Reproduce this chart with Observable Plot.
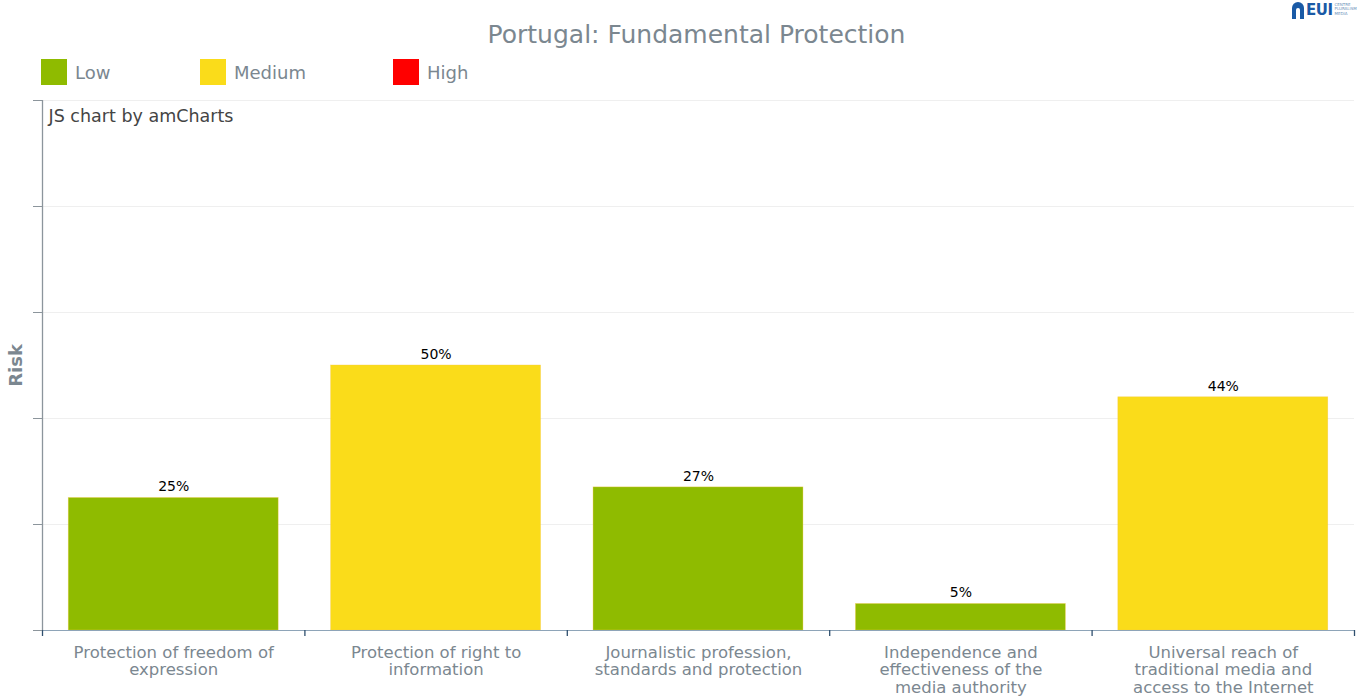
<!DOCTYPE html>
<html>
<head>
<meta charset="utf-8">
<script src="https://cdn.jsdelivr.net/npm/d3@7"></script>
<script src="https://cdn.jsdelivr.net/npm/@observablehq/plot@0.6"></script>
<style>
  html, body { margin: 0; padding: 0; background: #fff; }
  body { width: 1357px; height: 700px; position: relative; overflow: hidden; font-family: "DejaVu Sans", Verdana, sans-serif; }
  #title { position: absolute; left: 0; width: 1393px; top: 20px; text-align: center; font-size: 25px; color: #7b8790; }
  #legend { position: absolute; top: 59px; left: 0; height: 28px; }
  .item { position: absolute; top: 0; display: flex; align-items: center; white-space: nowrap; }
  .sw { width: 26px; height: 26px; display: inline-block; margin-right: 8px; }
  .lab { font-size: 18px; color: #7b8790; }
  #logo { position: absolute; left: 1292px; top: 2px; display: flex; align-items: flex-end; }
  #logo .arch { width: 12px; height: 17px; background: #1a5aa6; border-radius: 6px 6px 0 0; position: relative; margin-right: 2px; }
  #logo .arch::after { content: ""; position: absolute; left: 4px; top: 6px; width: 4px; height: 11px; background: #fff; border-radius: 2px 2px 0 0; }
  #logo .m { font-weight: bold; font-size: 15px; line-height: 17px; color: #1a5aa6; letter-spacing: -0.5px; }
  #logo .s { font-size: 4px; line-height: 4.5px; color: #6a8fb8; margin-left: 2px; margin-bottom: 3px; white-space: nowrap; }
  #chart { position: absolute; left: 0; top: 90px; }
</style>
</head>
<body>
<div id="logo"><span class="arch"></span><span class="m">EUI</span><span class="s">CENTRE<br>PLURALISM<br>MEDIA</span></div>
<div id="title">Portugal: Fundamental Protection</div>
<div id="legend"></div>
<div id="chart"></div>
<script>
const categories = [
  "Protection of freedom of expression",
  "Protection of right to information",
  "Journalistic profession, standards and protection",
  "Independence and effectiveness of the media authority",
  "Universal reach of traditional media and access to the Internet"
];
const categoryLines = [
  ["Protection of freedom of", "expression"],
  ["Protection of right to", "information"],
  ["Journalistic profession,", "standards and protection"],
  ["Independence and", "effectiveness of the", "media authority"],
  ["Universal reach of", "traditional media and", "access to the Internet"]
];
const values = [25, 50, 27, 5, 44];
const levels = ["Low", "Medium", "Low", "Low", "Medium"];
const legendLevels = ["Low", "Medium", "High"];
const levelColors = ["#8fbb00", "#fadc1a", "#ff0000"];
const yTicks = [0, 20, 40, 60, 80, 100];

const rows = categories.map((c, i) => ({i, name: c, lines: categoryLines[i].join("\n"), value: values[i], level: levels[i]}));

// legend
const legendX = [41, 200, 393];
const leg = document.getElementById("legend");
legendLevels.forEach((l, k) => {
  const d = document.createElement("div");
  d.className = "item";
  d.style.left = legendX[k] + "px";
  d.innerHTML = `<span class="sw" style="background:${levelColors[k]}"></span><span class="lab">${l}</span>`;
  leg.appendChild(d);
});

const chart = Plot.plot({
  width: 1357,
  height: 610,
  marginTop: 10,
  marginBottom: 70,
  marginLeft: 42,
  marginRight: 3,
  style: {fontFamily: "DejaVu Sans, Verdana, sans-serif", background: "#fff"},
  x: {type: "linear", domain: [0, categories.length], axis: null},
  y: {type: "linear", domain: [0, 100], axis: null},
  color: {domain: legendLevels, range: levelColors},
  marks: [
    Plot.gridY(yTicks.filter(t => t > 0), {stroke: "#efefef", strokeOpacity: 1}),
    Plot.rect(rows, {x1: d => d.i + 0.1, x2: d => d.i + 0.9, y1: 0, y2: "value", fill: "level", stroke: "#f5c842", strokeWidth: 0.6, strokeOpacity: 0.6}),
    Plot.text(rows, {x: d => d.i + 0.5, y: "value", text: d => d.value + "%", dy: -11, fontSize: 14, fill: "#000"}),
    Plot.ruleY([0], {stroke: "#8ea4b8"}),
    Plot.axisX(d3.range(categories.length + 1), {tickSize: 6, tickFormat: () => "", stroke: "#2f4f6e", strokeWidth: 1.3}),
    Plot.text(rows, {x: d => d.i + 0.5, y: 0, text: "lines", lineAnchor: "top", dy: 15, fontSize: 16.5, lineHeight: 1.06, fill: "#7b8790"}),
    Plot.ruleX([0], {stroke: "#8c959c", strokeWidth: 1.3}),
    Plot.axisY(yTicks, {tickSize: 9, tickFormat: () => "", stroke: "#8c959c", label: null}),
    Plot.text(["JS chart by amCharts"], {frameAnchor: "top-left", dx: 6, dy: 9, fontSize: 17.5, fill: "#444", textAnchor: "start"}),
    Plot.text(["Risk"], {frameAnchor: "left", textAnchor: "middle", dx: -26, rotate: -90, fontSize: 18, fontWeight: "bold", fill: "#7b8790"})
  ]
});
document.getElementById("chart").appendChild(chart);
</script>
</body>
</html>
